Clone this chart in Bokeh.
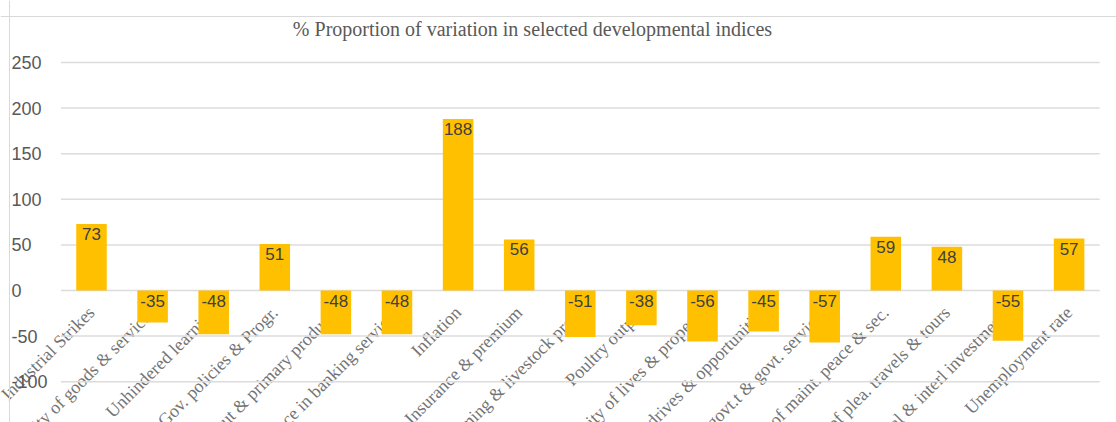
from math import pi
from bokeh.plotting import figure
from bokeh.models import ColumnDataSource, LabelSet, Label, Range1d, Span
from bokeh.core.properties import value
from bokeh.embed import file_html
from bokeh.resources import INLINE

title = "% Proportion of variation in selected developmental indices"
categories = [
    "Industrial Strikes",
    "Availability of goods & services",
    "Unhindered learning",
    "Gov. policies & Progr.",
    "Mining output & primary products",
    "Confidence in banking services",
    "Inflation",
    "Insurance & premium",
    "Farming & livestock prod.",
    "Poultry output",
    "Security of lives & property",
    "Investment drives & opportunities",
    "Relation btw. govt.t & govt. services",
    "Cost of maint. peace & sec.",
    "Cost of plea. travels & tours",
    "National & interl investments",
    "Unemployment rate",
]
values = [73, -35, -48, 51, -48, -48, 188, 56, -51, -38, -56, -45, -57, 59, 48, -55, 57]
y_ticks = [-100, -50, 0, 50, 100, 150, 200, 250]
y_tick_labels = [str(t) for t in y_ticks]

# layout (pixels)
W, H = 1116, 422
X0_PX, X_STEP = 91.0, 61.1      # centre of first category, pixels per category
Y0_PX, Y_SCALE = 290.0, 0.912   # pixel row of value 0, pixels per unit

n = len(categories)
idx = list(range(n))

src = ColumnDataSource(dict(
    idx=idx,
    cat=categories,
    val=values,
    lbl=[str(v) for v in values],
    lbl_y=[max(v, 0) for v in values],
    zero=[0] * n,
))
grid_src = ColumnDataSource(dict(
    y=y_ticks,
    t=y_tick_labels,
    x0=[-0.5] * len(y_ticks),
    x1=[n - 0.5] * len(y_ticks),
))

p = figure(width=W, height=H,
           x_range=Range1d(-X0_PX / X_STEP, (W - X0_PX) / X_STEP),
           y_range=Range1d(-(H - Y0_PX) / Y_SCALE, Y0_PX / Y_SCALE),
           output_backend="svg", toolbar_location=None,
           min_border=0)
p.outline_line_color = None
p.background_fill_color = "white"
p.border_fill_color = "white"
p.xaxis.visible = False
p.yaxis.visible = False
p.xgrid.visible = False
p.ygrid.visible = False

# chart-area border (top and left edges)
p.add_layout(Span(location=(Y0_PX - 16) / Y_SCALE, dimension="width",
                  line_color="#d9d9d9", line_width=1))
p.add_layout(Span(location=(9 - X0_PX) / X_STEP, dimension="height",
                  line_color="#d9d9d9", line_width=1))

# horizontal gridlines
p.segment(x0="x0", x1="x1", y0="y", y1="y", source=grid_src,
          line_color="#dcdcdc", line_width=1.5)

# category labels (under the bars)
cat_labels = LabelSet(x="idx", y="zero", text="cat", source=src,
                      angle=pi / 4, text_align="right", text_baseline="middle",
                      x_offset=0, y_offset=-19,
                      text_font=value("Liberation Serif"), text_font_size=value("18px"),
                      text_color=value("#747474"), level="underlay")
p.add_layout(cat_labels)

p.vbar(x="idx", top="val", width=0.5, source=src,
       fill_color="#FFC000", line_color=None)

val_labels = LabelSet(x="idx", y="lbl_y", text="lbl", source=src,
                      text_align="center", text_baseline="top", y_offset=-4,
                      text_font=value("Liberation Sans"), text_font_size=value("17px"),
                      text_color=value("#404040"))
p.add_layout(val_labels)

tick_labels = LabelSet(x=11, y="y", text="t", source=grid_src, x_units="screen",
                       text_align="left", text_baseline="middle",
                       text_font=value("Liberation Sans"), text_font_size=value("18px"),
                       text_color=value("#595959"))
p.add_layout(tick_labels)

p.add_layout(Label(x=532, x_units="screen", y=(Y0_PX - 28) / Y_SCALE, text=title,
                   text_align="center", text_baseline="middle",
                   text_font="Liberation Serif", text_font_size="20px",
                   text_color="#595959"))

open("out.html", "w").write(file_html(p, INLINE))
